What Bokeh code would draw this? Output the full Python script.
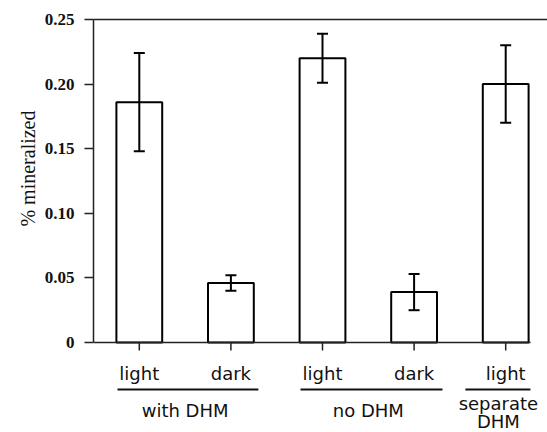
from bokeh.plotting import figure
from bokeh.models import (ColumnDataSource, Whisker, TeeHead, LinearAxis,
                          FixedTicker, Range1d, Title)
from bokeh.core.properties import value
from bokeh.embed import file_html
from bokeh.resources import INLINE

# ---- data ----
conditions = ["light", "dark", "light", "dark", "light"]
means = [0.186, 0.046, 0.220, 0.039, 0.200]
errors = [0.038, 0.006, 0.019, 0.014, 0.030]
y_ticks = [0, 0.05, 0.10, 0.15, 0.20, 0.25]
y_tick_labels = ["0", "0.05", "0.10", "0.15", "0.20", "0.25"]
group_labels = ["with DHM", "no DHM", "separate", "DHM"]
y_title = "% mineralized"

# ---- layout constants (pixels) ----
W, H = 547, 432
LEFT, TOP = 93, 19
PX_PER_UNIT_Y = 323.0 / 0.25      # pixels per y unit
PX_PER_UNIT_X = 91.6              # pixels per bar slot
Y_BOTTOM = -(H - 342) / PX_PER_UNIT_Y
X_END = (W - LEFT) / PX_PER_UNIT_X


def below(px):
    """data y for a point px pixels below the baseline"""
    return -px / PX_PER_UNIT_Y


xs = [i + 0.5 for i in range(len(conditions))]
src = ColumnDataSource(dict(
    x=xs, top=means,
    upper=[m + e for m, e in zip(means, errors)],
    lower=[m - e for m, e in zip(means, errors)],
))

p = figure(width=W, height=H, output_backend="svg", toolbar_location=None,
           x_range=Range1d(0, X_END), y_range=Range1d(Y_BOTTOM, 0.25),
           min_border_left=LEFT, min_border_top=TOP, min_border_bottom=0,
           min_border_right=0)
p.grid.visible = False
p.outline_line_color = None
p.xaxis.visible = False

AX = "#222222"
TXT = "#111111"

# bars
p.vbar(x="x", top="top", width=0.5, bottom=0, source=src,
       fill_color="white", line_color="black", line_width=2)

# error bars
p.add_layout(Whisker(source=src, base="x", upper="upper", lower="lower",
                     line_color="black", line_width=2, level="annotation",
                     upper_head=TeeHead(size=11, line_width=2, line_color="black"),
                     lower_head=TeeHead(size=11, line_width=2, line_color="black")))

# y axis (bounded to the data range)
ya = p.yaxis[0]
ya.bounds = (0, 0.25)
ya.ticker = FixedTicker(ticks=y_ticks)
ya.major_label_overrides = {t: l for t, l in zip(y_ticks, y_tick_labels)}
ya.minor_tick_line_color = None
ya.major_tick_in = 0
ya.major_tick_out = 9
ya.major_tick_line_width = 1.5
ya.major_tick_line_color = AX
ya.axis_line_width = 1.5
ya.axis_line_color = AX
ya.major_label_standoff = 10
ya.major_label_text_font = "Liberation Serif"
ya.major_label_text_font_style = "bold"
ya.major_label_text_font_size = "17px"
ya.major_label_text_color = TXT

# y title, placed along the 0..0.25 span
p.add_layout(Title(text=y_title, align="right", offset=91,
                   text_font="Liberation Serif", text_font_style="normal",
                   text_font_size="20px", text_color=TXT, standoff=6), "left")

# top line
p.add_layout(LinearAxis(ticker=FixedTicker(ticks=[]), major_tick_line_color=None,
                        minor_tick_line_color=None, major_label_text_font_size="0px",
                        major_label_standoff=0, axis_line_width=1.5,
                        axis_line_color=AX), "above")

# baseline (category axis) with downward ticks and labels
baseline_end = (530 - LEFT) / PX_PER_UNIT_X
p.segment(x0=[0], y0=[0], x1=[baseline_end], y1=[0], line_color=AX, line_width=1.5)
p.segment(x0=xs, y0=[0] * len(xs), x1=xs, y1=[below(8)] * len(xs),
          line_color=AX, line_width=1.5)
p.text(x=xs, y=[below(31)] * len(xs), text=conditions,
       text_font=value("DejaVu Sans"), text_font_size="18px", text_color=TXT,
       text_align="center", text_baseline="middle")

# group underlines
ul_x0 = [0.262, 2.26, 4.06]
ul_x1 = [1.80, 3.81, 4.77]
p.segment(x0=ul_x0, y0=[below(47)] * 3, x1=ul_x1, y1=[below(47)] * 3,
          line_color=TXT, line_width=2)

# group labels
gx = [1.0, 3.0, 4.42, 4.42]
gy = [below(68), below(68), below(61), below(79)]
p.text(x=gx, y=gy, text=group_labels,
       text_font=value("DejaVu Sans"), text_font_size="18px", text_color=TXT,
       text_align="center", text_baseline="middle")

open("out.html", "w").write(file_html(p, INLINE))
